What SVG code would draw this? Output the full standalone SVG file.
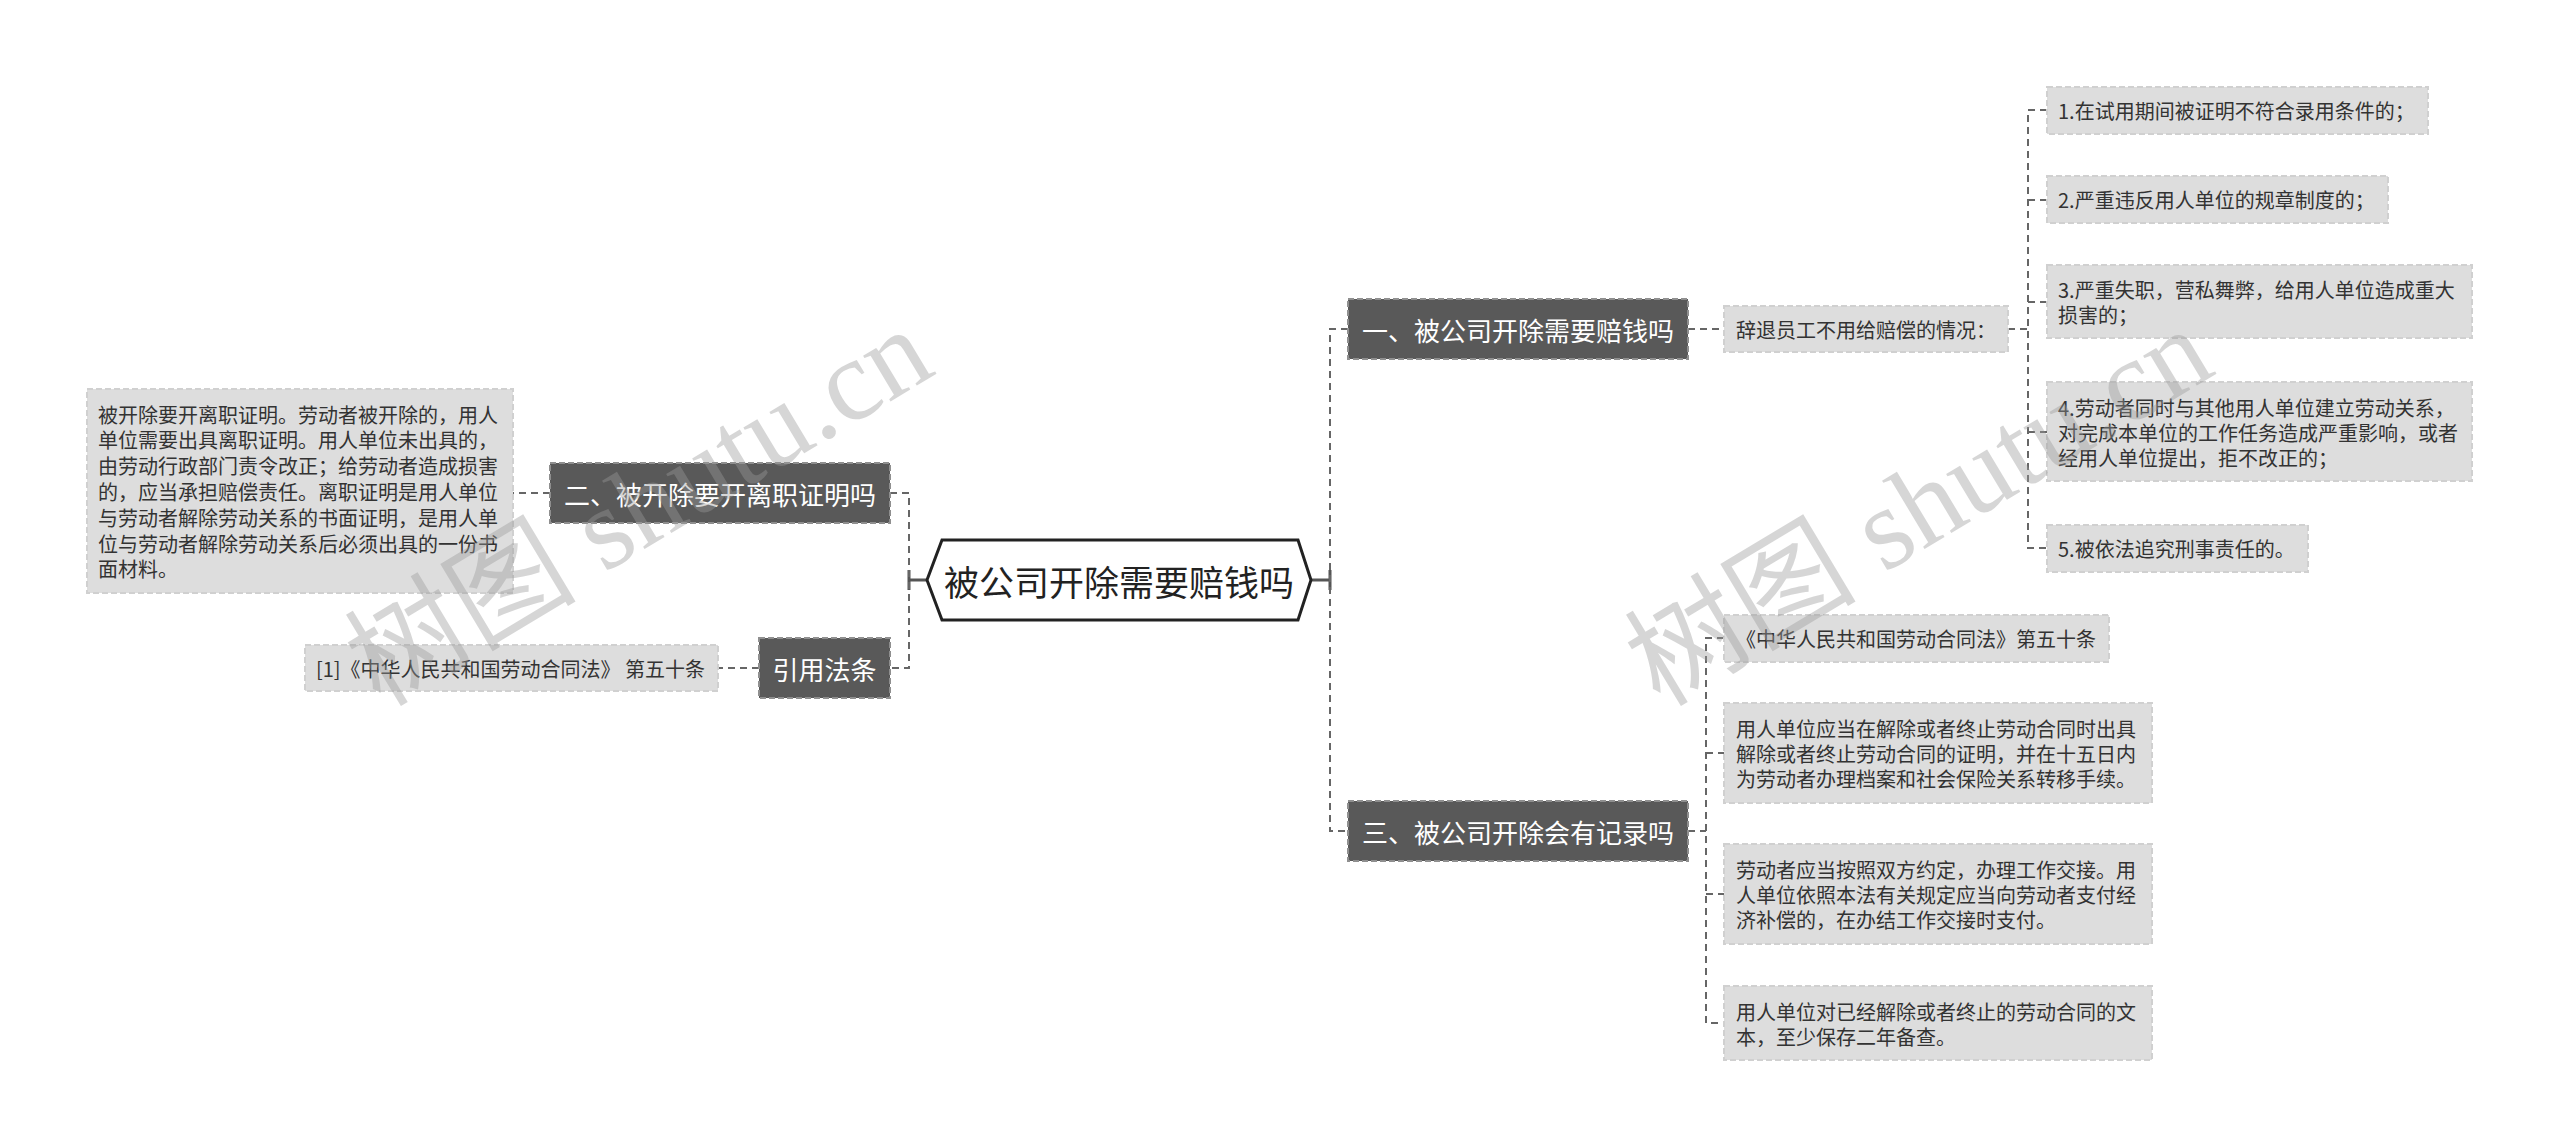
<svg xmlns="http://www.w3.org/2000/svg" width="2560" height="1148" viewBox="0 0 2560 1148">
<style>
.cn{font-family:"Noto Sans CJK SC","Noto Sans",sans-serif;}
.dark{fill:#595959;stroke:#8f8f8f;stroke-width:2;stroke-dasharray:6,3;}
.dt{fill:#ffffff;font-size:26px;}
.light{fill:#dddddd;stroke:#d0d0d0;stroke-width:2;stroke-dasharray:6,3;}
.lt{fill:#333333;font-size:20px;}
.conn{fill:none;stroke:#666666;stroke-width:2;stroke-dasharray:7,5;}
.solid{fill:none;stroke:#555555;stroke-width:3;}
.wm{fill:#9a9a9a;opacity:0.4;font-size:116px;font-family:"Liberation Serif","Noto Sans CJK SC",serif;}
</style>
<rect width="2560" height="1148" fill="#ffffff"/>
<g id="connectors">
<path class="solid" d="M927 580 H909 M909 570 V590"/>
<path class="solid" d="M1311 580 H1330 M1330 570 V590"/>
<path class="conn" d="M890 493 H909 V668 H890"/>
<path class="conn" d="M550 493 H513"/>
<path class="conn" d="M759 668 H718"/>
<path class="conn" d="M1348 329 H1330 V831 H1348"/>
<path class="conn" d="M1688 329 H1724"/>
<path class="conn" d="M2008 329 H2028"/>
<path class="conn" d="M2047 110 H2028 V548 H2047"/>
<path class="conn" d="M2028 200 H2047 M2028 302 H2047 M2028 432 H2047"/>
<path class="conn" d="M1688 831 H1706"/>
<path class="conn" d="M1724 638 H1706 V1023 H1724"/>
<path class="conn" d="M1706 753 H1724 M1706 894 H1724"/>
</g>
<g id="root">
<polygon points="927,580 942,540 1298,540 1311,580 1298,620 942,620" fill="#ffffff" stroke="#222222" stroke-width="3"/>
<text class="cn" x="1119" y="580" font-size="35" fill="#222222" text-anchor="middle" dominant-baseline="central">被公司开除需要赔钱吗</text>
</g>
<g id="n2">
<rect class="dark" x="550" y="463" width="340" height="60"/>
<text class="cn dt" x="720" y="493" text-anchor="middle" dominant-baseline="central">二、被开除要开离职证明吗</text>
</g>
<g id="n2a">
<rect class="light" x="87" y="389" width="426" height="204"/>
<text class="cn lt" dominant-baseline="central">
<tspan x="98" y="413.5">被开除要开离职证明。劳动者被开除的，用人</tspan>
<tspan x="98" y="439.3">单位需要出具离职证明。用人单位未出具的，</tspan>
<tspan x="98" y="465.1">由劳动行政部门责令改正；给劳动者造成损害</tspan>
<tspan x="98" y="490.9">的，应当承担赔偿责任。离职证明是用人单位</tspan>
<tspan x="98" y="516.7">与劳动者解除劳动关系的书面证明，是用人单</tspan>
<tspan x="98" y="542.5">位与劳动者解除劳动关系后必须出具的一份书</tspan>
<tspan x="98" y="568.3">面材料。</tspan>
</text>
</g>
<g id="n4">
<rect class="dark" x="759" y="638" width="131" height="60"/>
<text class="cn dt" x="824.5" y="668" text-anchor="middle" dominant-baseline="central">引用法条</text>
</g>
<g id="n4a">
<rect class="light" x="305" y="645" width="413" height="46"/>
<text class="cn lt" x="316" y="668" dominant-baseline="central">[1]《中华人民共和国劳动合同法》 第五十条</text>
</g>
<g id="n1">
<rect class="dark" x="1348" y="299" width="340" height="60"/>
<text class="cn dt" x="1518" y="329" text-anchor="middle" dominant-baseline="central">一、被公司开除需要赔钱吗</text>
</g>
<g id="n1a">
<rect class="light" x="1724" y="306" width="284" height="46"/>
<text class="cn lt" x="1736" y="329" dominant-baseline="central">辞退员工不用给赔偿的情况：</text>
</g>
<g id="i1">
<rect class="light" x="2047" y="87" width="381" height="47"/>
<text class="cn lt" x="2058" y="110.5" dominant-baseline="central">1.在试用期间被证明不符合录用条件的；</text>
</g>
<g id="i2">
<rect class="light" x="2047" y="176" width="341" height="47"/>
<text class="cn lt" x="2058" y="199.5" dominant-baseline="central">2.严重违反用人单位的规章制度的；</text>
</g>
<g id="i3">
<rect class="light" x="2047" y="265" width="425" height="73"/>
<text class="cn lt" dominant-baseline="central"><tspan x="2058" y="289">3.严重失职，营私舞弊，给用人单位造成重大</tspan><tspan x="2058" y="314">损害的；</tspan></text>
</g>
<g id="i4">
<rect class="light" x="2047" y="382" width="425" height="99"/>
<text class="cn lt" dominant-baseline="central"><tspan x="2058" y="406.5">4.劳动者同时与其他用人单位建立劳动关系，</tspan><tspan x="2058" y="431.5">对完成本单位的工作任务造成严重影响，或者</tspan><tspan x="2058" y="456.5">经用人单位提出，拒不改正的；</tspan></text>
</g>
<g id="i5">
<rect class="light" x="2047" y="525" width="261" height="47"/>
<text class="cn lt" x="2058" y="548.5" dominant-baseline="central">5.被依法追究刑事责任的。</text>
</g>
<g id="n3">
<rect class="dark" x="1348" y="801" width="340" height="60"/>
<text class="cn dt" x="1518" y="831" text-anchor="middle" dominant-baseline="central">三、被公司开除会有记录吗</text>
</g>
<g id="b1">
<rect class="light" x="1724" y="615" width="385" height="47"/>
<text class="cn lt" x="1736" y="638.5" dominant-baseline="central">《中华人民共和国劳动合同法》第五十条</text>
</g>
<g id="b2">
<rect class="light" x="1724" y="703" width="428" height="100"/>
<text class="cn lt" dominant-baseline="central"><tspan x="1736" y="728">用人单位应当在解除或者终止劳动合同时出具</tspan><tspan x="1736" y="753">解除或者终止劳动合同的证明，并在十五日内</tspan><tspan x="1736" y="778">为劳动者办理档案和社会保险关系转移手续。</tspan></text>
</g>
<g id="b3">
<rect class="light" x="1724" y="844" width="428" height="100"/>
<text class="cn lt" dominant-baseline="central"><tspan x="1736" y="869">劳动者应当按照双方约定，办理工作交接。用</tspan><tspan x="1736" y="894">人单位依照本法有关规定应当向劳动者支付经</tspan><tspan x="1736" y="919">济补偿的，在办结工作交接时支付。</tspan></text>
</g>
<g id="b4">
<rect class="light" x="1724" y="986" width="428" height="74"/>
<text class="cn lt" dominant-baseline="central"><tspan x="1736" y="1010.5">用人单位对已经解除或者终止的劳动合同的文</tspan><tspan x="1736" y="1035.5">本，至少保存二年备查。</tspan></text>
</g>
<g id="watermarks">
<text class="wm" transform="translate(380,708) rotate(-31)">树图 shutu.cn</text>
<text class="wm" transform="translate(1660,708) rotate(-31)">树图 shutu.cn</text>
</g>
</svg>
